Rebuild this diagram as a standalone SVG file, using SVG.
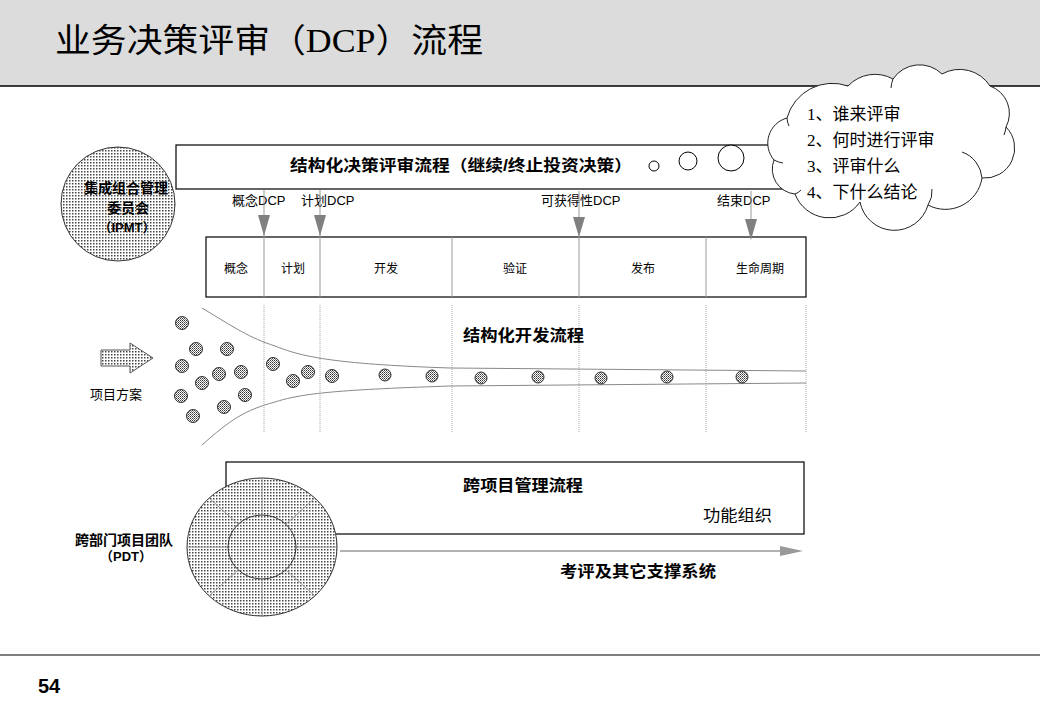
<svg xmlns="http://www.w3.org/2000/svg" width="1040" height="720" viewBox="0 0 1040 720">
<defs>
<pattern id="dots" width="3" height="3" patternUnits="userSpaceOnUse">
<rect width="3" height="3" fill="#fff"/>
<rect width="1.5" height="1.5" fill="#444"/>
</pattern>
<pattern id="dots2" width="2" height="2" patternUnits="userSpaceOnUse">
<rect width="2" height="2" fill="#fff"/>
<rect width="1" height="1" fill="#333"/>
<rect x="1" y="1" width="1" height="1" fill="#777"/>
</pattern>
<style>
.t{font-family:"Liberation Sans","Noto Sans CJK SC",sans-serif;fill:#000}
.b{font-weight:bold}
.dot{fill:url(#dots2);stroke:#333;stroke-width:1}
.vd{stroke:#aaa;stroke-width:1;stroke-dasharray:1,1}
.dv{stroke:#999;stroke-width:1}
.box{fill:#fff;stroke:#000;stroke-width:1.2}
</style>
</defs>

<!-- header -->
<rect x="0" y="0" width="1040" height="86" fill="#dcdcdc"/>
<line x1="0" y1="86" x2="1040" y2="86" stroke="#000" stroke-width="1.5"/>
<text x="55" y="52" font-family="Liberation Serif,Noto Sans CJK SC,serif" font-size="33" textLength="428" lengthAdjust="spacingAndGlyphs">业务决策评审（DCP）流程</text>
<line x1="0" y1="655" x2="1040" y2="655" stroke="#000" stroke-width="1.2"/>
<text class="t b" x="38" y="693" font-size="20">54</text>

<!-- decision review process bar -->
<g id="dcp-bar">
<rect class="box" x="176" y="145" width="630" height="44"/>
<text class="t b" x="290" y="171" font-size="16" textLength="342" lengthAdjust="spacingAndGlyphs">结构化决策评审流程（继续/终止投资决策）</text>
<circle cx="654" cy="166" r="5" fill="#fff" stroke="#000"/>
<circle cx="688" cy="161" r="9" fill="#fff" stroke="#000"/>
<circle cx="731" cy="158" r="13" fill="#fff" stroke="#000"/>
</g>

<!-- IPMT -->
<g id="ipmt">
<circle cx="118" cy="204" r="57" fill="url(#dots)" stroke="#333"/>
<text class="t b" x="126" y="193" font-size="14" text-anchor="middle">集成组合管理</text>
<text class="t b" x="128" y="213" font-size="14" text-anchor="middle">委员会</text>
<text class="t b" x="127" y="232" font-size="13" text-anchor="middle">（IPMT）</text>
</g>

<!-- phases -->
<g id="phases">
<rect class="box" x="206" y="237" width="600" height="60"/>
<line class="dv" x1="452" y1="237" x2="452" y2="297"/>
<line class="dv" x1="706" y1="237" x2="706" y2="297"/>
<text class="t" x="236" y="273" font-size="12" text-anchor="middle">概念</text>
<text class="t" x="293" y="273" font-size="12" text-anchor="middle">计划</text>
<text class="t" x="386" y="273" font-size="12" text-anchor="middle">开发</text>
<text class="t" x="515" y="273" font-size="12" text-anchor="middle">验证</text>
<text class="t" x="643" y="273" font-size="12" text-anchor="middle">发布</text>
<text class="t" x="760" y="273" font-size="12" text-anchor="middle">生命周期</text>
</g>

<!-- DCP labels -->
<g id="dcp-labels">
<text class="t" x="232" y="205" font-size="13">概念DCP</text>
<text class="t" x="301" y="205" font-size="13">计划DCP</text>
<text class="t" x="541" y="205" font-size="13">可获得性DCP</text>
<text class="t" x="717" y="205" font-size="13">结束DCP</text>
</g>

<!-- connectors -->
<g id="connectors">
<line x1="264" y1="190" x2="264" y2="297" class="dv"/>
<line x1="320" y1="190" x2="320" y2="297" class="dv"/>
<line x1="579" y1="191" x2="579" y2="297" class="dv"/>
<line x1="751" y1="191" x2="751" y2="222" class="dv"/>
<path d="M258,215 L270,215 L264,236 Z" fill="#808080"/>
<path d="M314,215 L326,215 L320,236 Z" fill="#808080"/>
<path d="M573,217 L585,217 L579,237 Z" fill="#808080"/>
<path d="M745,219 L757,219 L751,240 Z" fill="#808080"/>
<line x1="340" y1="551" x2="782" y2="551" stroke="#999" stroke-width="1.5"/>
<path d="M780,546 L803,551 L780,556 Z" fill="#999"/>
</g>

<!-- development flow -->
<g id="dev-flow">
<line class="vd" x1="264" y1="305" x2="264" y2="432"/>
<line class="vd" x1="320" y1="305" x2="320" y2="432"/>
<line class="vd" x1="452" y1="305" x2="452" y2="432"/>
<line class="vd" x1="579" y1="305" x2="579" y2="432"/>
<line class="vd" x1="706" y1="305" x2="706" y2="432"/>
<line class="vd" x1="806" y1="305" x2="806" y2="432"/>
<path d="M202,308 C235,328 250,338 275,346 C300,356 330,364 450,368 L806,371" fill="none" stroke="#888" stroke-width="1"/>
<path d="M202,445 C230,420 245,410 275,402 C300,394 330,390 450,386 L806,383" fill="none" stroke="#888" stroke-width="1"/>
<text class="t b" x="463" y="341" font-size="16" textLength="121" lengthAdjust="spacingAndGlyphs">结构化开发流程</text>
<circle class="dot" cx="182" cy="323" r="6.5"/>
<circle class="dot" cx="196" cy="349" r="6.5"/>
<circle class="dot" cx="227" cy="349" r="6.5"/>
<circle class="dot" cx="182" cy="366" r="6.5"/>
<circle class="dot" cx="219" cy="374" r="6.5"/>
<circle class="dot" cx="241" cy="372" r="6.5"/>
<circle class="dot" cx="202" cy="383" r="6.5"/>
<circle class="dot" cx="181" cy="396" r="6.5"/>
<circle class="dot" cx="245" cy="395" r="6.5"/>
<circle class="dot" cx="193" cy="416" r="6.5"/>
<circle class="dot" cx="224" cy="407" r="6.5"/>
<circle class="dot" cx="273" cy="364" r="6.5"/>
<circle class="dot" cx="293" cy="381" r="6.5"/>
<circle class="dot" cx="308" cy="372" r="6.5"/>
<circle class="dot" cx="332" cy="376" r="6.5"/>
<circle class="dot" cx="385" cy="375" r="6"/>
<circle class="dot" cx="432" cy="376" r="6"/>
<circle class="dot" cx="481" cy="378" r="6"/>
<circle class="dot" cx="538" cy="377" r="6"/>
<circle class="dot" cx="601" cy="378" r="6"/>
<circle class="dot" cx="667" cy="377" r="6"/>
<circle class="dot" cx="742" cy="377" r="6"/>
</g>

<!-- project proposal arrow -->
<g id="proposal">
<path d="M101,350 L130,350 L130,343 L153,358 L130,373 L130,366 L101,366 Z" fill="url(#dots)" stroke="#555"/>
<text class="t" x="90" y="399" font-size="13">项目方案</text>
</g>

<!-- cross-project management -->
<g id="cross-project">
<rect class="box" x="226" y="462" width="578" height="72"/>
<text class="t b" x="463" y="491" font-size="16" textLength="120" lengthAdjust="spacingAndGlyphs">跨项目管理流程</text>
<text class="t" x="703" y="521" font-size="16" textLength="69" lengthAdjust="spacingAndGlyphs">功能组织</text>
</g>

<!-- PDT wheel -->
<g id="pdt">
<ellipse cx="262" cy="547" rx="75" ry="69" fill="url(#dots)" stroke="#333"/>
<g stroke="#999" stroke-width="1">
<line x1="262" y1="478" x2="262" y2="515"/>
<line x1="262" y1="579" x2="262" y2="616"/>
<line x1="187" y1="547" x2="228" y2="547"/>
<line x1="296" y1="547" x2="337" y2="547"/>
<line x1="209" y1="498" x2="238" y2="524"/>
<line x1="315" y1="498" x2="286" y2="524"/>
<line x1="209" y1="596" x2="238" y2="570"/>
<line x1="315" y1="596" x2="286" y2="570"/>
</g>
<ellipse cx="262" cy="547" rx="34" ry="32" fill="none" stroke="#333"/>
<text class="t b" x="124" y="545" font-size="14" text-anchor="middle">跨部门项目团队</text>
<text class="t b" x="126" y="561" font-size="13" text-anchor="middle">（PDT）</text>
</g>

<text class="t b" x="560" y="577" font-size="16" textLength="156" lengthAdjust="spacingAndGlyphs">考评及其它支撑系统</text>

<!-- cloud callout -->
<g id="cloud">
<path d="M787,118 A47,47 0 0,1 848,86 A37,37 0 0,1 893,79 A32,32 0 0,1 942,74 A36,36 0 0,1 990,86 A29,29 0 0,1 1006,127 A30,30 0 0,1 982,178 A37,37 0 0,1 928,205 A35,35 0 0,1 860,202 A37,37 0 0,1 795,194 A25,25 0 0,1 774,160 A26,26 0 0,1 787,118 Z" fill="#fff" stroke="#222" stroke-width="1"/>
<g fill="none" stroke="#222" stroke-width="1">
<path d="M787,118 A20,20 0 0,0 789,126"/>
<path d="M774,160 A25,25 0 0,0 783,163"/>
<path d="M795,194 A14,14 0 0,0 801,190"/>
<path d="M928,205 A25,25 0 0,0 932,189"/>
<path d="M982,178 A30,30 0 0,0 962,152"/>
<path d="M1006,127 A28,28 0 0,1 1004,135"/>
<path d="M893,79 A30,30 0 0,0 891,88"/>
</g>
<g font-family="Liberation Serif,Noto Sans CJK SC,serif" font-size="17">
<text x="807" y="120">1、谁来评审</text>
<text x="807" y="146">2、何时进行评审</text>
<text x="807" y="172">3、评审什么</text>
<text x="807" y="198">4、下什么结论</text>
</g>
</g>
</svg>
